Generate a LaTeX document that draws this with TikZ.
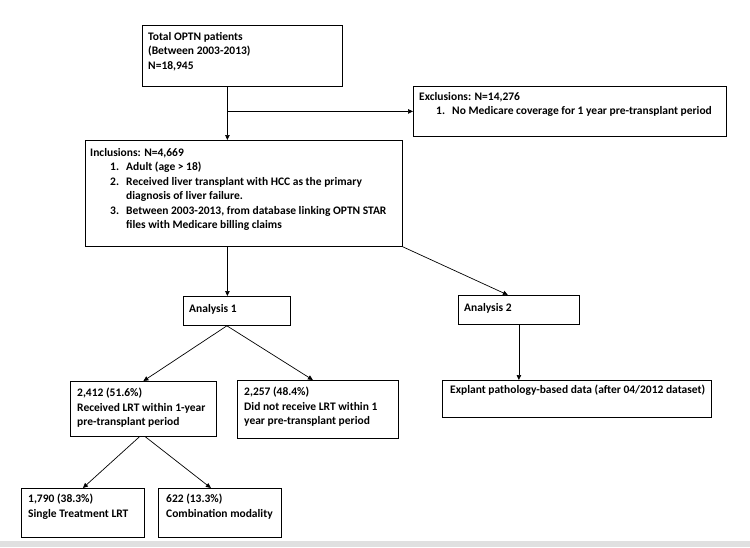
\documentclass[tikz,border=0pt]{standalone}
\usepackage{fontspec}
\setmainfont{Carlito}
\usetikzlibrary{arrows.meta}
\newcommand{\itm}[2][20pt]{\hspace*{#1}\makebox[16pt][l]{#2}}
\newcommand{\sigue}{\hspace*{36pt}}

\begin{document}
\begin{tikzpicture}[x=1pt,y=-1pt,
  caja/.style={draw, line width=0.8pt, inner sep=0pt, anchor=north west},
  texto/.style={anchor=north west, align=left, inner sep=0pt, yshift=9pt,
    execute at begin node={\rule{0pt}{9pt}},
    font=\bfseries\fontsize{11.5}{14.5}\selectfont},
  flecha/.style={line width=0.7pt, -{Triangle[length=5pt,width=4.5pt]}}]
\useasboundingbox (0,0) rectangle (750,547);
\fill[black!12] (0,541) rectangle (750,547); % franja inferior
% cajas
\node[caja, minimum width=200pt, minimum height=61pt] (total) at (142,25) {};
\node[caja, minimum width=313pt, minimum height=50pt] (excl) at (413,86) {};
\node[caja, minimum width=317pt, minimum height=106pt] (incl) at (85,140) {};
\node[caja, minimum width=107pt, minimum height=29pt] (an1) at (183,296) {};
\node[caja, minimum width=121pt, minimum height=29pt] (an2) at (458,295) {};
\node[caja, minimum width=146pt, minimum height=55pt] (lrt) at (70,381) {};
\node[caja, minimum width=161pt, minimum height=58pt] (nolrt) at (237,380) {};
\node[caja, minimum width=269pt, minimum height=37pt] (expl) at (442,380) {};
\node[caja, minimum width=123pt, minimum height=49pt] (single) at (21,488) {};
\node[caja, minimum width=123pt, minimum height=49pt] (combo) at (158,488) {};
% textos (y = linea base de la primera fila)
\node[texto] (ttotal) at (148,41) {Total OPTN patients\\(Between 2003-2013)\\N=18,945};
\node[texto] (texcl) at (419,101) {Exclusions: N=14,276\\\itm[17pt]{1.}No Medicare coverage for 1 year pre-transplant period};
\node[texto] (tincl) at (90,157) {Inclusions: N=4,669\\\itm{1.}Adult (age > 18)\\\itm{2.}Received liver transplant with HCC as the primary\\\sigue diagnosis of liver failure.\\\itm{3.}Between 2003-2013, from database linking OPTN STAR\\\sigue files with Medicare billing claims};
\node[texto] (tan1) at (189,312) {Analysis 1};
\node[texto] (tan2) at (464,311) {Analysis 2};
\node[texto] (tlrt) at (77,397) {2,412 (51.6\%)\\Received LRT within 1-year\\pre-transplant period};
\node[texto] (tnolrt) at (244,396) {2,257 (48.4\%)\\Did not receive LRT within 1\\year pre-transplant period};
\node[texto] (texpl) at (450,393) {Explant pathology-based data (after 04/2012 dataset)};
\node[texto] (tsingle) at (28,503) {1,790 (38.3\%)\\Single Treatment LRT};
\node[texto] (tcombo) at (166,503) {622 (13.3\%)\\Combination modality};
% flechas
\coordinate (split) at ([xshift=-15pt]total.south |- excl.west);
\draw[flecha] ([xshift=-15pt]total.south) -- (incl.north -| split);
\draw[flecha] (split) -- (excl.west);
\draw[flecha] (incl.south -| split) -- (an1.north -| split);
\draw[flecha] (incl.south east) -- ([xshift=-11pt]an2.north);
\draw[flecha] (an2.south) -- (expl.north -| an2.south);
\draw[flecha] ([xshift=-10pt]an1.south) -- (lrt.north);
\draw[flecha] ([xshift=-10pt]an1.south) -- ([xshift=-5pt]nolrt.north);
\draw[flecha] ([xshift=-4pt]lrt.south) -- (single.north);
\draw[flecha] ([xshift=2pt]lrt.south) -- ([xshift=-9pt]combo.north);
\end{tikzpicture}
\end{document}
